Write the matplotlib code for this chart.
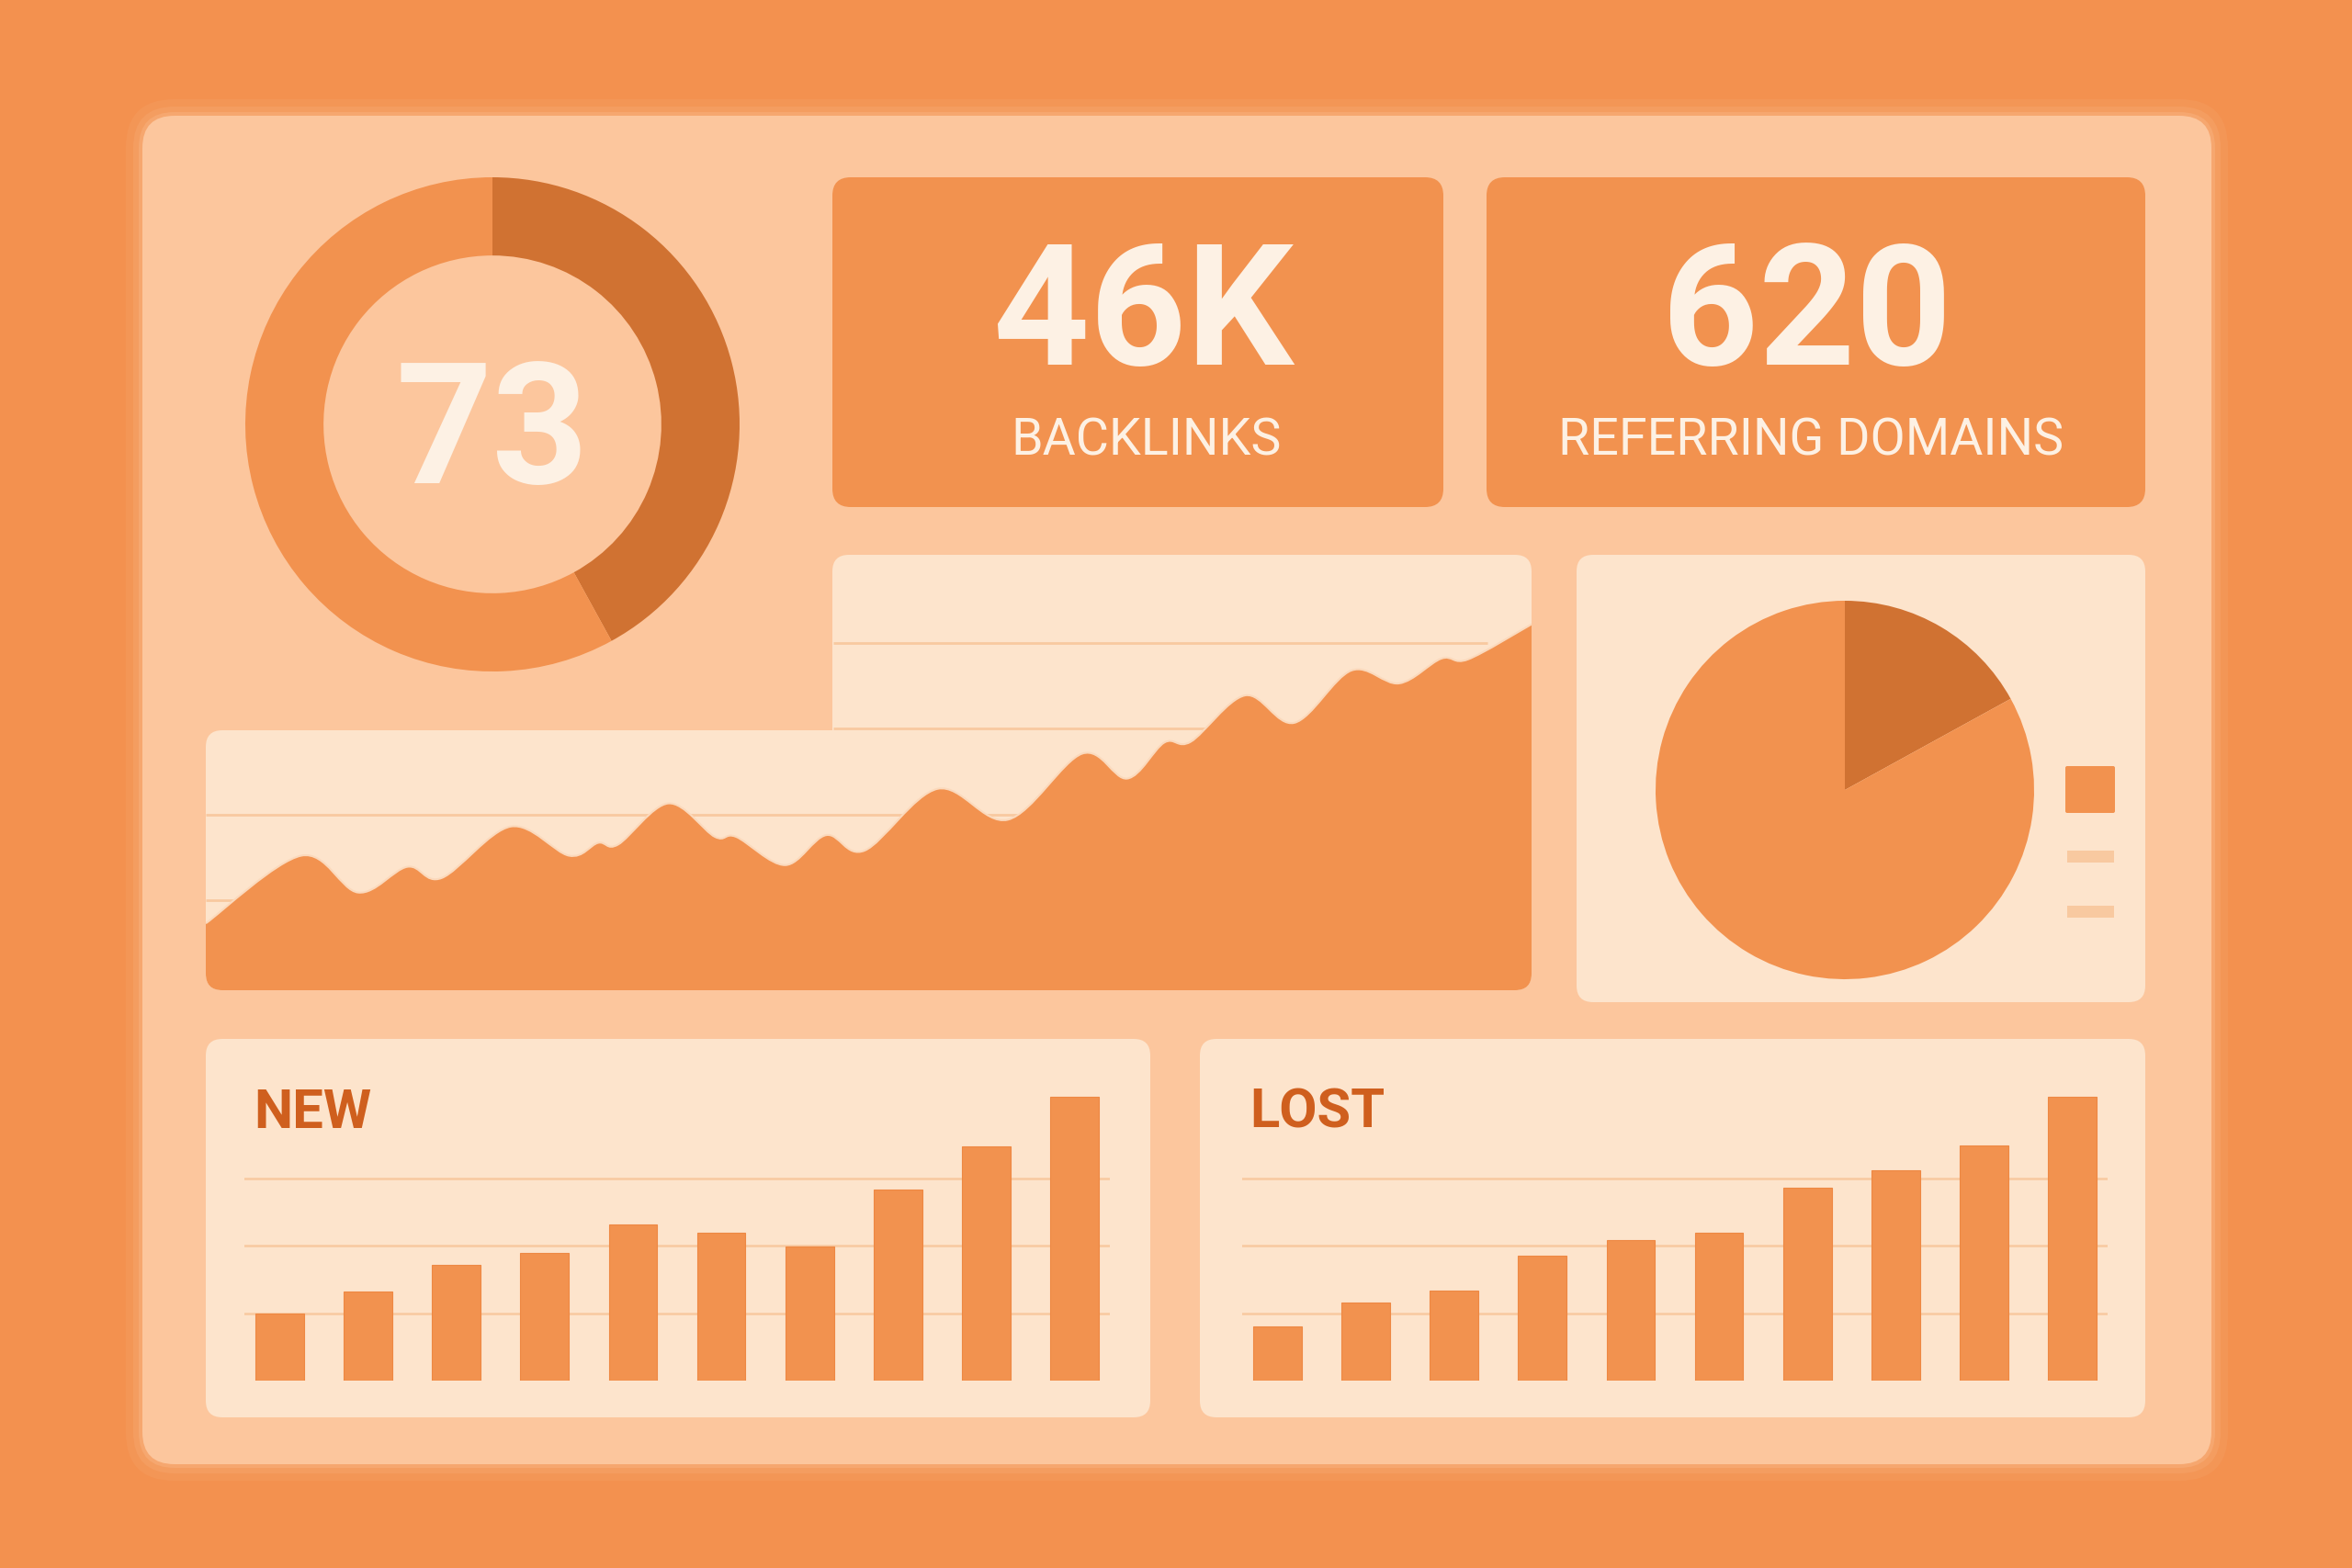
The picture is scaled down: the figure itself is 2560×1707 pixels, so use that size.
"""
SEO dashboard illustration: score donut, KPI cards, growth area, share pie, new/lost bars.
"""

import numpy as np
import matplotlib
matplotlib.use("Agg")
import matplotlib.pyplot as plt
from matplotlib.patches import FancyBboxPatch, Rectangle
from matplotlib.path import Path
from matplotlib.patches import PathPatch

W, H = 2560, 1707

# ---------------------------------------------------------------------------
# Data
# ---------------------------------------------------------------------------
SCORE_LABEL = "73"
SCORE_SHARE = [0.42, 0.58]          # dark arc, light arc

KPI_VALUES = ["46K", "620"]
KPI_LABELS = ["BACKLINKS", "REFERRING DOMAINS"]

growth_x = [0.0, 7.2, 11.5, 15.2, 17.8, 23.0, 27.4, 29.6, 31.1, 34.9, 38.4, 40.0,
            43.7, 46.8, 49.7, 55.2, 60.5, 66.1, 69.5, 72.3, 74.3, 78.4, 82.1,
            86.4, 90.0, 93.2, 95.2, 100.0]
growth_y = [7.3, 15.2, 10.9, 13.9, 12.6, 18.6, 15.2, 16.7, 16.5, 21.3, 17.4, 17.4,
            14.1, 17.6, 15.8, 23.0, 19.4, 27.1, 24.2, 28.4, 28.5, 33.9, 30.7,
            36.8, 35.3, 38.2, 38.1, 42.2]

PIE_SHARE = [0.17, 0.83]

new_links = [10.0, 13.3, 17.2, 18.9, 23.2, 21.9, 19.9, 28.4, 34.8, 42.1]
lost_links = [8.0, 11.6, 13.4, 18.5, 20.9, 22.0, 28.6, 31.2, 34.9, 42.2]

# ---------------------------------------------------------------------------
# Palette
# ---------------------------------------------------------------------------
BG = "#F3914F"
PANEL = "#FCC69D"
CARD = "#FDE4CC"
MID = "#F2924F"
DARK = "#D07232"
CREAM = "#FDF1E4"
GRID = "#F8C9A0"
TITLE = "#CF5F1E"
FONT = ["Roboto", "DejaVu Sans"]


def px_axes(fig, x0, y0, x1, y1):
    ax = fig.add_axes([x0 / W, 1 - y1 / H, (x1 - x0) / W, (y1 - y0) / H])
    ax.set_facecolor("none")
    return ax


def box(ax, x0, y0, x1, y1, color, r, add=True):
    p = FancyBboxPatch((x0 + r, y0 + r), x1 - x0 - 2 * r, y1 - y0 - 2 * r,
                       boxstyle=f"round,pad={r}", fc=color, ec="none",
                       transform=ax.transData)
    if add:
        ax.add_patch(p)
    return p


def ftext(fig, x, y, s, **kw):
    fig.text(x / W, 1 - y / H, s, family=FONT, **kw)


def smooth_path(x, y, base=None):
    # Catmull-Rom through the points, drawn as cubic Bezier segments
    pts = np.column_stack([x, y])
    verts = [tuple(pts[0])]
    codes = [Path.MOVETO]
    if base is not None:
        verts = [(x[0], base), tuple(pts[0])]
        codes = [Path.MOVETO, Path.LINETO]
    for i in range(len(pts) - 1):
        p0 = pts[i - 1] if i > 0 else pts[i]
        p1, p2 = pts[i], pts[i + 1]
        p3 = pts[i + 2] if i + 2 < len(pts) else pts[i + 1]
        c1 = p1 + (p2 - p0) / 6
        c2 = p2 - (p3 - p1) / 6
        verts += [tuple(c1), tuple(c2), tuple(p2)]
        codes += [Path.CURVE4] * 3
    if base is not None:
        verts += [(x[-1], base), (x[0], base)]
        codes += [Path.LINETO, Path.CLOSEPOLY]
    return Path(verts, codes)


def bar_panel(fig, bg, x0, x1, values, title, tx):
    ax = px_axes(fig, x0, 1180, x1, 1503)
    n = len(values)
    ax.set_xlim(-0.4, n - 0.6)
    ax.set_ylim(0, 44.07)
    for g in (10, 20, 30):
        ax.axhline(g, color=GRID, lw=1.8, zorder=0)
    bars = ax.bar(np.arange(n), values, width=0.55, color=MID, zorder=2)
    for b in bars:
        b.set_edgecolor("#EE8843")
        b.set_linewidth(0.8)
    ax.axis("off")
    ftext(fig, tx, 1228, title, fontsize=43, fontweight="bold", color=TITLE,
          ha="left", va="baseline")


def main():
    fig = plt.figure(figsize=(W / 100, H / 100), dpi=100)
    fig.patch.set_facecolor(BG)

    bg = fig.add_axes([0, 0, 1, 1])
    bg.set_xlim(0, W)
    bg.set_ylim(H, 0)
    bg.axis("off")

    # main panel with soft halo
    for k, a in [(18, 0.10), (10, 0.15), (4, 0.25)]:
        p = box(bg, 155 - k, 126 - k, 2407 + k, 1594 + k, PANEL, 35 + k)
        p.set_alpha(a)
    box(bg, 155, 126, 2407, 1594, PANEL, 35)

    # KPI cards
    box(bg, 906, 193, 1571, 552, MID, 20)
    box(bg, 1618, 193, 2335, 552, MID, 20)

    # growth panel (L-shaped), pie panel, bar panels
    box(bg, 906, 604, 1667, 830, CARD, 18)
    box(bg, 224, 795, 1667, 1078, CARD, 18)
    box(bg, 1716, 604, 2335, 1091, CARD, 18)
    box(bg, 224, 1131, 1252, 1543, CARD, 18)
    box(bg, 1306, 1131, 2335, 1543, CARD, 18)

    # score donut
    ax = px_axes(fig, 536 - 272, 462 - 272, 536 + 272, 462 + 272)
    ax.pie(SCORE_SHARE, colors=[DARK, MID], startangle=90, counterclock=False,
           radius=269 / 272, wedgeprops=dict(width=0.313, edgecolor="none"))
    ax.set_xlim(-1.0, 1.0)
    ax.set_ylim(-1.0, 1.0)
    ax.set_aspect("equal")
    ftext(fig, 536, 526, SCORE_LABEL, fontsize=132, fontweight="bold",
          color=CREAM, ha="center", va="baseline")

    # KPI texts
    for cx, val, lab in zip([1244, 1967], KPI_VALUES, KPI_LABELS):
        ftext(fig, cx, 397, val, fontsize=132, fontweight="bold", color=CREAM,
              ha="center", va="baseline")
        ftext(fig, cx + 4, 495, lab, fontsize=40, color=CREAM,
              ha="center", va="baseline")

    # growth area
    ax = px_axes(fig, 224, 604, 1667, 1078)
    ax.set_xlim(0, 100)
    ax.set_ylim(-0.5, 50.3)
    ax.hlines([10, 20], 0, 96.7, color=GRID, lw=2, zorder=0)
    ax.hlines([30, 40], 47.3, 96.7, color=GRID, lw=2, zorder=0)
    gx, gy = np.array(growth_x), np.array(growth_y)
    area = PathPatch(smooth_path(gx, gy, -0.5), fc=MID, ec="none", zorder=2)
    ax.add_patch(area)
    edge = PathPatch(smooth_path(gx, gy), fc="none", ec="#FBD9BC", lw=1.5,
                     zorder=3)
    ax.add_patch(edge)
    clip = box(bg, 224, 604, 1667, 1078, CARD, 18, add=False)
    area.set_clip_path(clip)
    ax.axis("off")

    # share pie
    ax = px_axes(fig, 2008 - 209, 860 - 209, 2008 + 209, 860 + 209)
    ax.pie(PIE_SHARE, colors=[DARK, MID], startangle=90, counterclock=False,
           radius=206 / 209, wedgeprops=dict(edgecolor="none"))
    ax.set_xlim(-1.0, 1.0)
    ax.set_ylim(-1.0, 1.0)
    ax.set_aspect("equal")
    bg.add_patch(FancyBboxPatch((2250, 836), 50, 47, boxstyle="round,pad=2",
                                fc=MID, ec="none"))
    bg.add_patch(Rectangle((2250, 926), 51, 13, fc=GRID, ec="none"))
    bg.add_patch(Rectangle((2250, 986), 51, 13, fc=GRID, ec="none"))

    # new / lost bars
    bar_panel(fig, bg, 266, 1208, new_links, "NEW", 276)
    bar_panel(fig, bg, 1352, 2294, lost_links, "LOST", 1360)

    plt.savefig("out.png", dpi=100, facecolor=BG)
    plt.close()


if __name__ == "__main__":
    main()
